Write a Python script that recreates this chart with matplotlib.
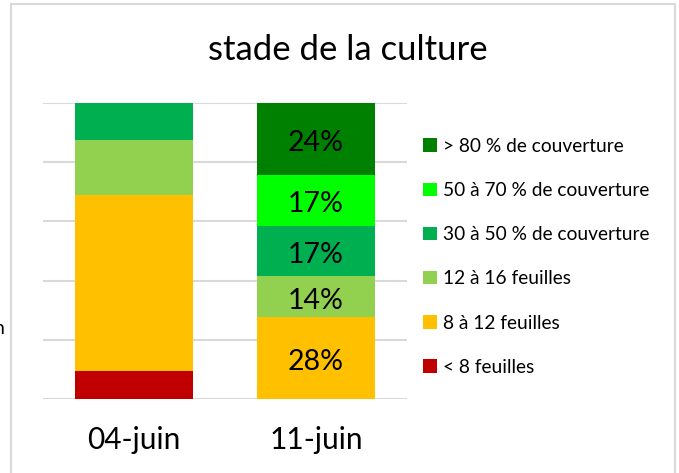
import numpy as np
import matplotlib
matplotlib.use('Agg')
import matplotlib.pyplot as plt
from matplotlib.patches import Rectangle

plt.rcParams['font.family'] = ['Lato', 'DejaVu Sans']

TITLE = 'stade de la culture'
DATES = ['04-juin', '11-juin']

# bottom to top of the stack
STAGES = ['< 8 feuilles', '8 à 12 feuilles', '12 à 16 feuilles',
          '30 à 50 % de couverture', '50 à 70 % de couverture', '> 80 % de couverture']
COLORS = ['#C00000', '#FFC000', '#92D050', '#00B050', '#00FF00', '#008000']

# share of fields (%) per stage, [04-juin, 11-juin]
LT8 = [9.4, 0.0]
F8_12 = [59.4, 27.6]
F12_16 = [18.7, 13.8]
C30_50 = [12.5, 17.2]
C50_70 = [0.0, 17.2]
GT80 = [0.0, 24.2]
SHOW_LABELS = [False, True]

GRID_COLOR = '#D9D9D9'


def main():
    values = [LT8, F8_12, F12_16, C30_50, C50_70, GT80]

    fig = plt.figure(figsize=(6.79, 4.73), dpi=100)
    ax = fig.add_axes([0.0633, 0.1564, 0.536, 0.6258])

    x = np.arange(len(DATES))
    bottom = np.zeros(len(DATES))
    handles = []
    for name, vals, col in zip(STAGES, values, COLORS):
        vals = np.array(vals)
        bars = ax.bar(x, vals, width=0.645, bottom=bottom, color=col,
                      label=name, zorder=3)
        labels = ['%d%%' % round(v) if (show and v > 0) else ''
                  for v, show in zip(vals, SHOW_LABELS)]
        ax.bar_label(bars, labels=labels, label_type='center', fontsize=20.5,
                     color='black', padding=-3)
        handles.append(bars)
        bottom += vals

    ax.set_xlim(-0.5, 1.5)
    ax.set_ylim(0, 100)
    ax.set_yticks(np.arange(0, 101, 20))
    ax.yaxis.grid(True, color=GRID_COLOR, linewidth=1.5, zorder=0)
    ax.set_yticklabels([])
    ax.tick_params(left=False, bottom=False, labelsize=21.5, pad=16)
    ax.set_xticks(x)
    ax.set_xticklabels(DATES)
    for sp in ax.spines.values():
        sp.set_visible(False)

    fig.text(0.512, 0.895, TITLE, ha='center', va='center', fontsize=25)

    fig.legend(handles[::-1], STAGES[::-1], loc='center left',
               bbox_to_anchor=(0.598, 0.457), frameon=False, fontsize=13.8,
               handlelength=0.7, handleheight=0.7, handletextpad=0.35,
               labelspacing=1.42)

    # chart frame
    fig.patches.append(Rectangle((11 / 679, -0.05), 664 / 679, 1.05 - 4 / 473,
                                 transform=fig.transFigure, fill=False,
                                 edgecolor=GRID_COLOR, linewidth=1.5))
    # clipped text from neighbouring cell
    fig.text(-6 / 679, 1 - 329 / 473, 'n', ha='left', va='center', fontsize=14)

    fig.savefig('out.png', dpi=100)


if __name__ == '__main__':
    main()
